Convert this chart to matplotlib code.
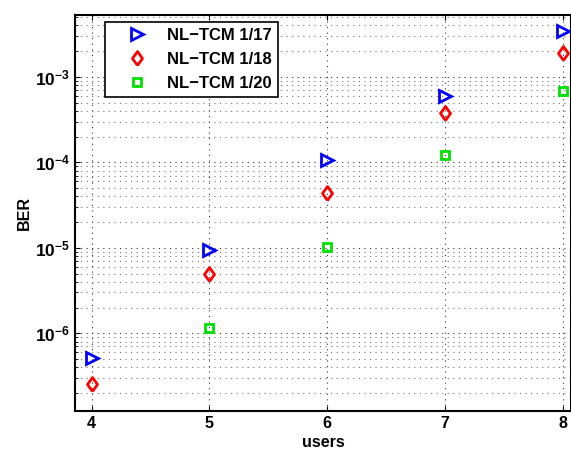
import math
import matplotlib
matplotlib.use("Agg")
import matplotlib.pyplot as plt
from matplotlib.ticker import FuncFormatter, LogLocator, NullFormatter

users = [4, 5, 6, 7, 8]
ber_17 = [5.1e-7, 9.4e-6, 1.06e-4, 6.0e-4, 3.46e-3]
ber_18 = [2.55e-7, 5.0e-6, 4.4e-5, 3.76e-4, 1.92e-3]
users_20 = [5, 6, 7, 8]
ber_20 = [1.16e-6, 1.03e-5, 1.22e-4, 6.86e-4]

plt.rcParams["font.family"] = ["Liberation Sans", "DejaVu Sans"]
plt.rcParams["font.weight"] = "bold"
plt.rcParams["mathtext.fontset"] = "custom"
plt.rcParams["mathtext.bf"] = "Liberation Sans:bold"
plt.rcParams["mathtext.rm"] = "Liberation Sans:bold"

# MATLAB-like diamond (wider than matplotlib's thin "d")
diamond = [(0, -1), (0.72, 0), (0, 1), (-0.72, 0), (0, -1)]

fig = plt.figure(figsize=(5.71, 4.5), dpi=100)
ax = fig.add_axes([0.1313, 0.0873, 0.8687, 0.8793])

ax.plot(users, ber_17, ">", color="blue", mfc="none", mew=2, ms=8, label="NL\u2212TCM 1/17")
ax.plot(users, ber_18, marker=diamond, ls="none", color="red", mfc="none", mew=2, ms=10,
        label="NL\u2212TCM 1/18")
ax.plot(users_20, ber_20, "s", color="#00e000", mfc="none", mew=2, ms=6, label="NL\u2212TCM 1/20")

ax.set_yscale("log")
ax.set_xlim(3.858, 8.07)
ax.set_ylim(1.24e-7, 5.3e-3)
ax.set_xticks(users)
ax.yaxis.set_major_locator(LogLocator(base=10, numticks=20))
ax.yaxis.set_minor_locator(LogLocator(base=10, subs=range(2, 10), numticks=20))
ax.yaxis.set_minor_formatter(NullFormatter())
ax.yaxis.set_major_formatter(FuncFormatter(lambda v, p: r"$\mathbf{10^{%d}}$" % round(math.log10(v))))

dots = (0, (1, 4))
ax.grid(True, which="major", linestyle=dots, color="0.2", linewidth=0.8)
ax.grid(True, which="minor", axis="y", linestyle=dots, color="0.45", linewidth=0.8)
ax.tick_params(which="both", direction="in", top=True)
ax.tick_params(axis="y", labelsize=12.5)
ax.tick_params(axis="x", labelsize=11.5)
ax.tick_params(which="minor", length=2.5)
for s in ax.spines.values():
    s.set_linewidth(1.5)

ax.set_xlabel("users", fontsize=11.5, fontweight="bold", labelpad=3)
ax.set_ylabel("BER", fontsize=11.5, fontweight="bold", labelpad=2)

leg = ax.legend(loc="upper left", bbox_to_anchor=(0.06, 0.983), fancybox=False,
                edgecolor="black", framealpha=1, fontsize=12, borderpad=0.35,
                handlelength=3.2, handletextpad=0.2, labelspacing=0.55, borderaxespad=0)
leg.get_frame().set_linewidth(1.2)

fig.savefig("out.png", dpi=100)
